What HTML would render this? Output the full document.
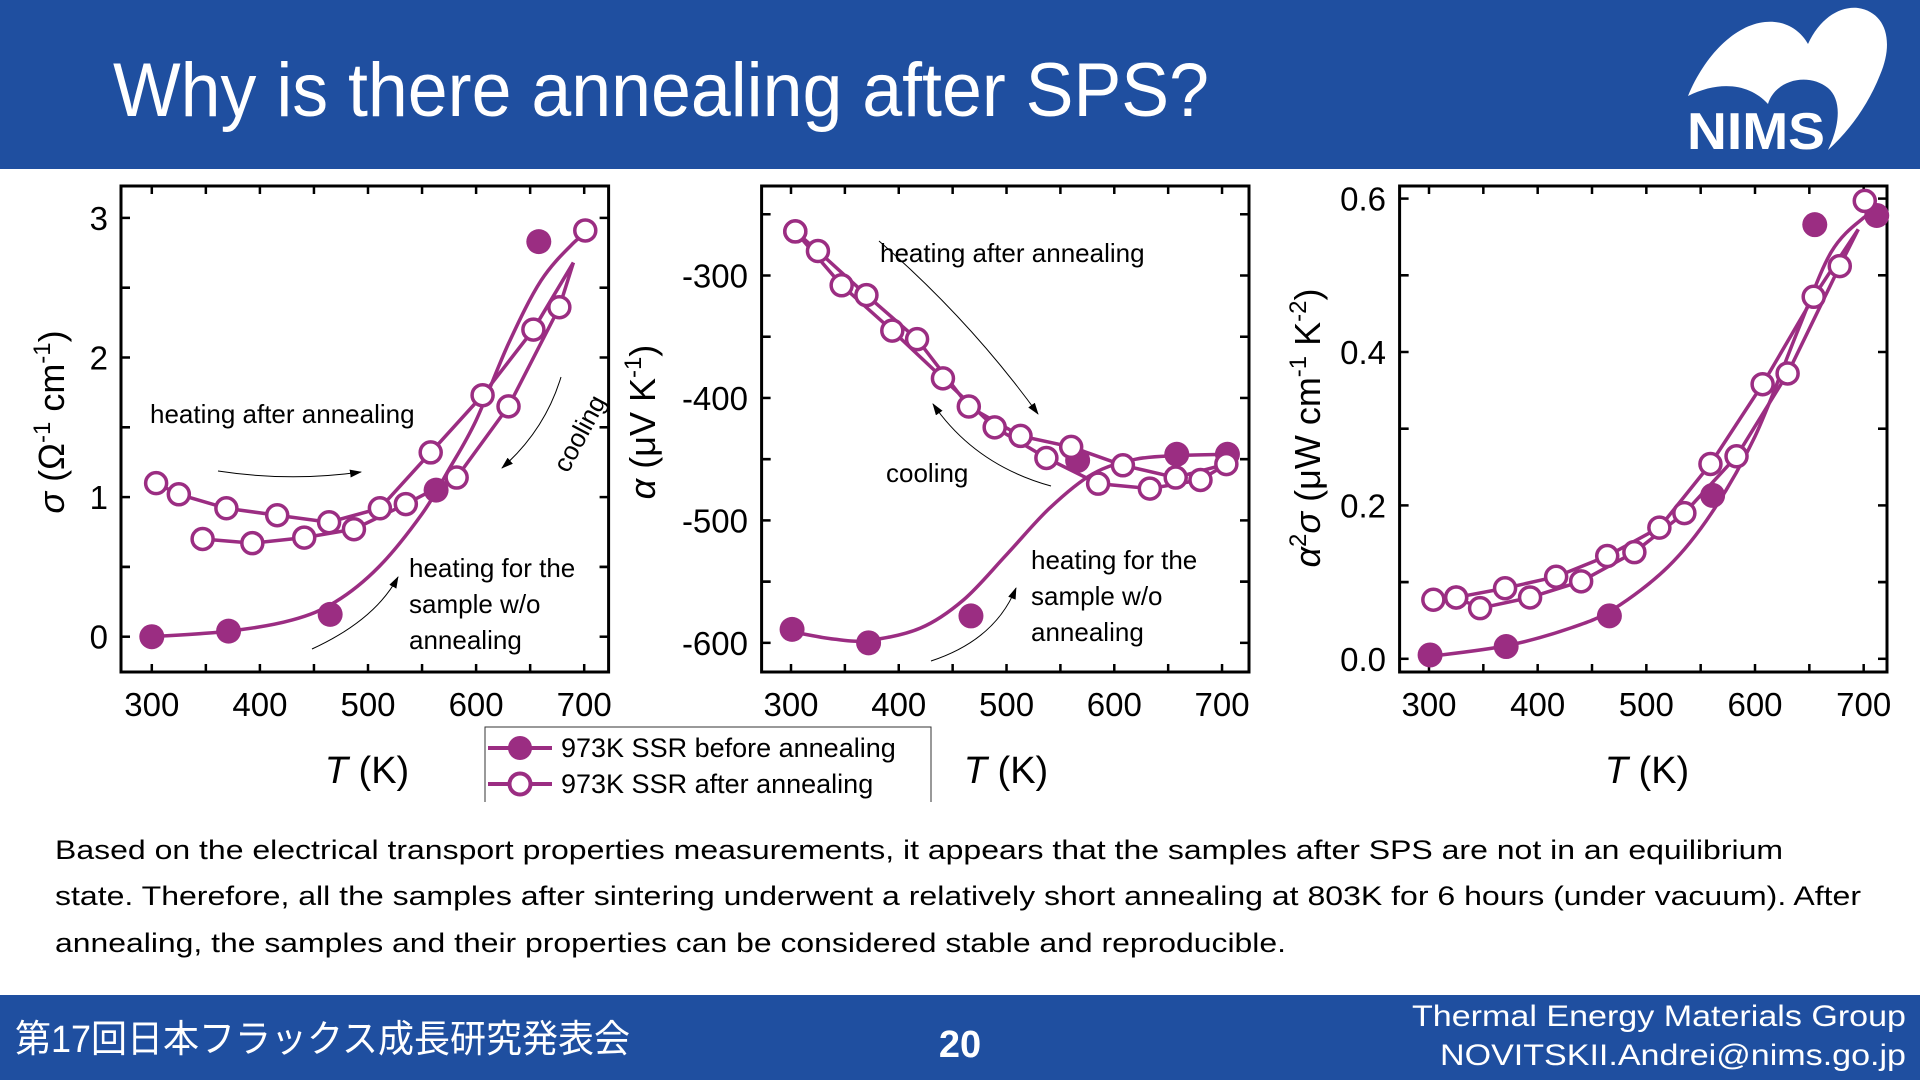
<!DOCTYPE html>
<html><head><meta charset="utf-8"><style>
html,body{margin:0;padding:0;background:#fff;width:1920px;height:1080px;overflow:hidden}
svg{display:block;font-family:"Liberation Sans","Noto Sans CJK JP",sans-serif}
</style></head><body>
<svg id="s" width="1920" height="1080" viewBox="0 0 1920 1080" xmlns="http://www.w3.org/2000/svg">
<rect x="0" y="0" width="1920" height="169" fill="#1f4fa0"/>
<text x="113" y="116" font-size="76" fill="#fff" textLength="1096" lengthAdjust="spacingAndGlyphs">Why is there annealing after SPS?</text>
<g>
<path d="M1688,96 C1705,55 1735,25 1765,22 C1785,20 1800,30 1808,44 C1820,18 1840,6 1858,8 C1885,12 1895,40 1880,75 C1868,105 1850,130 1828,150 C1840,125 1842,100 1828,88 C1808,72 1775,80 1768,104 C1750,84 1720,80 1688,96 Z" fill="#fff"/>
<text x="1687" y="149" font-size="52" font-weight="bold" fill="#fff" textLength="138" lengthAdjust="spacingAndGlyphs">NIMS</text>
</g>
<g id="charts"></g>
<g>
<path d="M485,802 V727 H931 V802" fill="none" stroke="#333" stroke-width="1"/>
<line x1="488" y1="748" x2="552" y2="748" stroke="#9b2d82" stroke-width="4"/>
<circle cx="520" cy="748" r="12" fill="#9b2d82"/>
<text x="561" y="757" font-size="27">973K SSR before annealing</text>
<line x1="488" y1="784" x2="552" y2="784" stroke="#9b2d82" stroke-width="4"/>
<circle cx="520" cy="784" r="10.5" fill="#fff" stroke="#9b2d82" stroke-width="4"/>
<text x="561" y="793" font-size="27">973K SSR after annealing</text>
</g>
<g font-size="27" fill="#000">
<text x="55" y="859" textLength="1728" lengthAdjust="spacingAndGlyphs">Based on the electrical transport properties measurements, it appears that the samples after SPS are not in an equilibrium</text>
<text x="55" y="905" textLength="1806" lengthAdjust="spacingAndGlyphs">state. Therefore, all the samples after sintering underwent a relatively short annealing at 803K for 6 hours (under vacuum). After</text>
<text x="55" y="952" textLength="1231" lengthAdjust="spacingAndGlyphs">annealing, the samples and their properties can be considered stable and reproducible.</text>
</g>
<rect x="0" y="995" width="1920" height="85" fill="#1f4fa0"/>
<text x="15" y="1052" font-size="38" fill="#fff" textLength="615" lengthAdjust="spacingAndGlyphs">第17回日本フラックス成長研究発表会</text>
<text x="960" y="1057" font-size="38" font-weight="bold" fill="#fff" text-anchor="middle">20</text>
<text x="1906" y="1026" font-size="30" fill="#fff" text-anchor="end" textLength="494" lengthAdjust="spacingAndGlyphs">Thermal Energy Materials Group</text>
<text x="1906" y="1065" font-size="30" fill="#fff" text-anchor="end" textLength="466" lengthAdjust="spacingAndGlyphs">NOVITSKII.Andrei@nims.go.jp</text>
</svg>
<script>
// ---- data ----
const sigFilledT = [300, 371, 465, 563, 658];
const sigFilledV = [0.00, 0.04, 0.16, 1.05, 2.83];
const sigFitT = [300, 372, 430, 470, 510, 550, 575, 600, 630, 660, 690, 705];
const sigFitV = [0.00, 0.04, 0.12, 0.25, 0.50, 0.88, 1.20, 1.55, 2.10, 2.55, 2.82, 2.90];
const sigHeatT = [304, 325, 369, 416, 464, 511, 558, 606, 653, 690];
const sigHeatV = [1.10, 1.02, 0.92, 0.87, 0.82, 0.92, 1.32, 1.73, 2.20, 2.68];
const sigCoolT = [690, 677, 630, 582, 535, 487, 441, 393, 347];
const sigCoolV = [2.68, 2.36, 1.65, 1.14, 0.95, 0.77, 0.71, 0.67, 0.70];
const sigExtraT = [701];
const sigExtraV = [2.91];

const alpFilledT = [301, 372, 467, 566, 658, 705];
const alpFilledV = [-589, -600, -578, -451, -446, -446];
const alpFitT = [301, 340, 372, 420, 460, 500, 540, 580, 620, 660, 705];
const alpFitV = [-591, -597, -598, -588, -565, -528, -490, -462, -450, -447, -446];
const alpHeatT = [304, 347, 394, 441, 489, 537, 585, 633, 680, 704];
const alpHeatV = [-264, -308, -345, -384, -424, -449, -470, -474, -467, -454];
const alpCoolT = [704, 657, 608, 560, 513, 465, 417, 370, 325, 304];
const alpCoolV = [-454, -465, -455, -440, -431, -407, -352, -316, -280, -264];

const pfFilledT = [301, 371, 466, 561, 655, 712];
const pfFilledV = [0.005, 0.016, 0.056, 0.213, 0.566, 0.578];
const pfFitT = [300, 371, 430, 470, 520, 560, 600, 640, 670, 700, 712];
const pfFitV = [0.003, 0.017, 0.040, 0.065, 0.120, 0.190, 0.290, 0.430, 0.530, 0.575, 0.580];
const pfHeatT = [304, 325, 370, 417, 464, 512, 559, 607, 654, 695];
const pfHeatV = [0.077, 0.080, 0.092, 0.107, 0.134, 0.171, 0.254, 0.358, 0.472, 0.560];
const pfCoolT = [695, 678, 630, 583, 535, 489, 440, 393, 347, 325];
const pfCoolV = [0.560, 0.512, 0.372, 0.264, 0.190, 0.139, 0.101, 0.080, 0.066, 0.080];
const pfExtraT = [701];
const pfExtraV = [0.597];

const xTicks = [300, 400, 500, 600, 700];
const sigTicks = [0, 1, 2, 3];
const alpTicks = [-300, -400, -500, -600];
const pfTicks = [0.0, 0.2, 0.4, 0.6];
const pfTickLabels = ["0.0", "0.2", "0.4", "0.6"];

const NS = "http://www.w3.org/2000/svg";
const PUR = "#9b2d82";
const root = document.getElementById('charts');
function mk(tag, attrs, parent) {
  const e = document.createElementNS(NS, tag);
  for (const k in attrs) e.setAttribute(k, attrs[k]);
  (parent || root).appendChild(e);
  return e;
}
function spline(pts) {
  let d = "M" + pts[0][0] + "," + pts[0][1];
  for (let i = 0; i < pts.length - 1; i++) {
    const p0 = pts[Math.max(0, i - 1)], p1 = pts[i], p2 = pts[i + 1], p3 = pts[Math.min(pts.length - 1, i + 2)];
    const c1x = p1[0] + (p2[0] - p0[0]) / 6, c1y = p1[1] + (p2[1] - p0[1]) / 6;
    const c2x = p2[0] - (p3[0] - p1[0]) / 6, c2y = p2[1] - (p3[1] - p1[1]) / 6;
    d += " C" + c1x + "," + c1y + " " + c2x + "," + c2y + " " + p2[0] + "," + p2[1];
  }
  return d;
}
function chart(cfg) {
  const g = mk('g', {});
  
  
  const X = T => cfg.x0 + (T - 300) * cfg.kx;
  const Y = v => cfg.y0 + (v - cfg.v0) * cfg.ky;
  const L = cfg.left, R = cfg.right, Tp = 186, B = 672;
  const fr = mk('rect', {x: L, y: Tp, width: R - L, height: B - Tp, fill: 'none', stroke: '#000', 'stroke-width': 3}, g);
  
  
  for (let T = 300; T <= 700; T += 50) {
    const x = X(T);
    mk('line', {x1: x, y1: B, x2: x, y2: B - 8, stroke: '#000', 'stroke-width': 2.5}, g);
    mk('line', {x1: x, y1: Tp, x2: x, y2: Tp + 8, stroke: '#000', 'stroke-width': 2.5}, g);
  }
  xTicks.forEach(T => {
    const t = mk('text', {x: X(T), y: 716, 'font-size': 33, 'text-anchor': 'middle'}, g);
    t.textContent = T;
    
    
  });
  const step = cfg.ticks[1] - cfg.ticks[0];
  for (let i = 0; i < cfg.ticks.length; i++) {
    for (let h = -1; h < 2; h++) {
      const v = cfg.ticks[i] + h * step / 2;
      const y = Y(v);
      if (y < Tp + 2 || y > B - 2) continue;
      mk('line', {x1: L, y1: y, x2: L + 9, y2: y, stroke: '#000', 'stroke-width': 2.5}, g);
      mk('line', {x1: R, y1: y, x2: R - 9, y2: y, stroke: '#000', 'stroke-width': 2.5}, g);
    }
    const t = mk('text', {x: cfg.ylx, y: Y(cfg.ticks[i]) + 12, 'font-size': 33, 'text-anchor': 'end'}, g);
    t.textContent = cfg.tickLabels[i];
    
    
  }
  const fit = mk('path', {d: spline(cfg.fitT.map((T, i) => [X(T), Y(cfg.fitV[i])])), fill: 'none', stroke: PUR, 'stroke-width': 3.5}, g);
  
  
  [[cfg.heatT, cfg.heatV, 'heating'], [cfg.coolT, cfg.coolV, 'cooling']].forEach(s => {
    const pl = mk('polyline', {points: s[0].map((T, i) => X(T) + ',' + Y(s[1][i])).join(' '), fill: 'none', stroke: PUR, 'stroke-width': 3.5}, g);
    
    
  });
  cfg.filledT.forEach((T, i) => {
    const c = mk('circle', {cx: X(T), cy: Y(cfg.filledV[i]), r: 12.5, fill: PUR}, g);
    
    
  });
  const openT = cfg.heatT.concat(cfg.coolT.slice(1)).concat(cfg.extraT);
  const openV = cfg.heatV.concat(cfg.coolV.slice(1)).concat(cfg.extraV);
  openT.forEach((T, i) => {
    if (cfg.skip && cfg.skip.indexOf(T) >= 0) return;
    const c = mk('circle', {cx: X(T), cy: Y(openV[i]), r: 10.5, fill: '#fff', stroke: PUR, 'stroke-width': 3.5}, g);
    
    
  });
  const xt = mk('text', {x: cfg.xtx, y: 783, 'font-size': 38, 'text-anchor': 'middle'}, g);
  xt.innerHTML = '<tspan font-style="italic">T</tspan> (K)';
  
  
  const yt = mk('text', {x: 0, y: 0, 'font-size': 36, 'text-anchor': 'middle', transform: 'translate(' + cfg.ytx + ',' + cfg.yty + ') rotate(-90)'}, g);
  yt.innerHTML = cfg.ytitle;
  
  
  return g;
}
chart({name: 'conductivity-chart', x0: 151.8, kx: 1.081, y0: 636.7, v0: 0, ky: -139.6, left: 121, right: 608.6,
  ticks: sigTicks, tickLabels: sigTicks.map(String), ylx: 108,
  fitT: sigFitT, fitV: sigFitV, filledT: sigFilledT, filledV: sigFilledV,
  heatT: sigHeatT, heatV: sigHeatV, coolT: sigCoolT, coolV: sigCoolV, extraT: sigExtraT, extraV: sigExtraV, skip: [690],
  xtx: 367, ytx: 64, yty: 422,
  ytitle: '<tspan font-style="italic">σ</tspan> (Ω<tspan dy="-14" font-size="24">-1</tspan><tspan dy="14"> cm</tspan><tspan dy="-14" font-size="24">-1</tspan><tspan dy="14">)</tspan>'});
chart({name: 'seebeck-chart', x0: 791, kx: 1.0776, y0: 275.5, v0: -300, ky: -1.2245, left: 761.6, right: 1249,
  ticks: alpTicks, tickLabels: alpTicks.map(String), ylx: 748,
  fitT: alpFitT, fitV: alpFitV, filledT: alpFilledT, filledV: alpFilledV,
  heatT: alpHeatT, heatV: alpHeatV, coolT: alpCoolT, coolV: alpCoolV, extraT: [], extraV: [],
  xtx: 1006, ytx: 655, yty: 422,
  ytitle: '<tspan font-style="italic">α</tspan> (μV K<tspan dy="-14" font-size="24">-1</tspan><tspan dy="14">)</tspan>'});
chart({name: 'power-factor-chart', x0: 1429, kx: 1.0867, y0: 658.8, v0: 0, ky: -767, left: 1399.6, right: 1887,
  ticks: pfTicks, tickLabels: pfTickLabels, ylx: 1386,
  fitT: pfFitT, fitV: pfFitV, filledT: pfFilledT, filledV: pfFilledV,
  heatT: pfHeatT, heatV: pfHeatV, coolT: pfCoolT, coolV: pfCoolV, extraT: pfExtraT, extraV: pfExtraV, skip: [695],
  xtx: 1647, ytx: 1320, yty: 428,
  ytitle: '<tspan font-style="italic">α</tspan><tspan dy="-14" font-size="24">2</tspan><tspan dy="14" font-style="italic">σ</tspan> (μW cm<tspan dy="-14" font-size="24">-1</tspan><tspan dy="14"> K</tspan><tspan dy="-14" font-size="24">-2</tspan><tspan dy="14">)</tspan>'});

function note(x, y, lines, name, rot) {
  const t = mk('text', {x: x, y: y, 'font-size': 26});
  if (rot) t.setAttribute('transform', 'rotate(' + rot + ' ' + x + ' ' + y + ')');
  lines.forEach((l, i) => { const s = mk('tspan', {x: x, dy: i ? 36 : 0}, t); s.textContent = l; });
  
  
}
note(150, 423, ['heating after annealing'], 'annotation-heating-after');
note(568, 474, ['cooling'], 'annotation-cooling', -62);
note(409, 577, ['heating for the', 'sample w/o', 'annealing'], 'annotation-heating-wo');
note(880, 262, ['heating after annealing'], 'annotation-heating-after-2');
note(886, 482, ['cooling'], 'annotation-cooling-2');
note(1031, 569, ['heating for the', 'sample w/o', 'annealing'], 'annotation-heating-wo-2');
const defs = mk('defs', {});
const m = mk('marker', {id: 'ah', markerWidth: 12, markerHeight: 8, refX: 11, refY: 4, orient: 'auto', markerUnits: 'userSpaceOnUse'}, defs);
mk('path', {d: 'M0,0 L12,4 L0,8 Z', fill: '#000'}, m);
[['M218,471 Q290,482 361,472', 'arrow-heating-after'], ['M561,377 Q545,430 502,468', 'arrow-cooling'],
 ['M312,649 Q375,620 398,577', 'arrow-heating-wo'], ['M879,241 Q970,320 1038,414', 'arrow-heating-after-2'],
 ['M1051,486 Q975,465 933,404', 'arrow-cooling-2'], ['M931,661 Q995,640 1016,588', 'arrow-heating-wo-2']].forEach(a => {
  const p = mk('path', {d: a[0], fill: 'none', stroke: '#000', 'stroke-width': 1, 'marker-end': 'url(#ah)'});
  
  
});
</script>
</body></html>
